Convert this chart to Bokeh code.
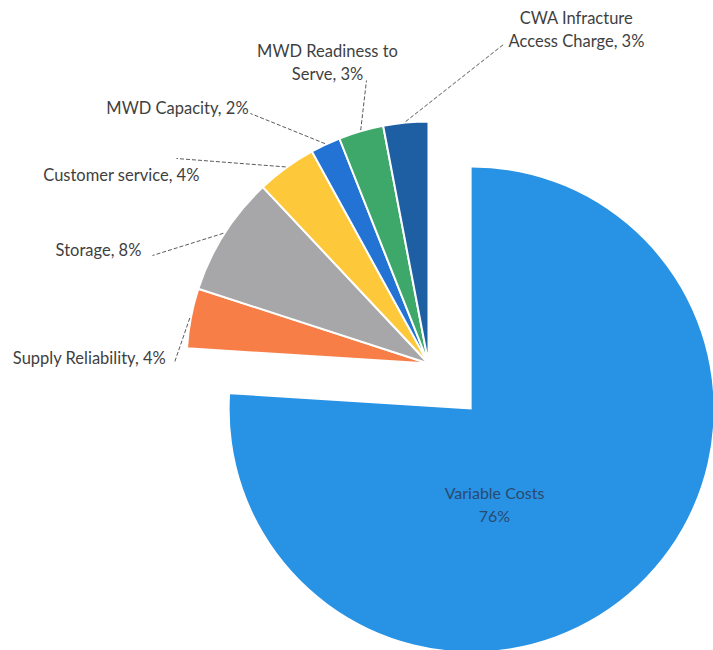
import numpy as np
from bokeh.plotting import figure
from bokeh.models import Range1d
from bokeh.embed import file_html
from bokeh.resources import INLINE
from bokeh.core.properties import value

# ---- data ----
categories = ["Variable Costs", "Supply Reliability", "Storage", "Customer service",
              "MWD Capacity", "MWD Readiness to Serve", "CWA Infracture Access Charge"]
shares = [76, 4, 8, 4, 2, 3, 3]
label_lines = [["Variable Costs", "76%"],
               ["Supply Reliability, 4%"],
               ["Storage, 8%"],
               ["Customer service, 4%"],
               ["MWD Capacity, 2%"],
               ["MWD Readiness to", "Serve, 3%"],
               ["CWA Infracture", "Access Charge, 3%"]]

# ---- styles / layout ----
colors = ["#2892E4", "#F87E48", "#A7A7A9", "#FDC93A", "#2373D4", "#3DA86A", "#1E5EA3"]
W, H = 713, 650
CX, CY = 428, 363          # pie centre (screen px)
R = 242
explode = [63, 0, 0, 0, 0, 0, 0]
# label centres (screen px) of first line, line spacing
label_pos = [(494, 492), (89, 357), (98, 249), (121, 174), (177, 107), (327, 50), (576, 17)]
leader_end = [None, (174, 362), (152, 255), (176, 158), (250, 113), (366, 80), (503, 44)]
LINE_H = 23

def sy(y):
    return H - y

p = figure(width=W, height=H, x_range=Range1d(0, W), y_range=Range1d(0, H),
           output_backend="svg", toolbar_location=None,
           x_axis_location=None, y_axis_location=None, min_border=0)
p.grid.visible = False
p.outline_line_color = None
p.background_fill_color = "white"
p.border_fill_color = "white"

total = float(sum(shares))
start = 0.0
for i, s in enumerate(shares):
    theta0 = start
    theta1 = start + 360.0 * s / total
    start = theta1
    mid = np.radians((theta0 + theta1) / 2)
    dx, dy = np.sin(mid), np.cos(mid)
    cx = CX + explode[i] * dx
    cy = sy(CY) + explode[i] * dy
    p.wedge(x=[cx], y=[cy], radius=R,
            start_angle=np.radians(90 - theta1), end_angle=np.radians(90 - theta0),
            direction="anticlock", fill_color=colors[i],
            line_color="white", line_width=2 if i else 0)
    if leader_end[i] is not None:
        x0 = cx + (R + 1) * dx
        y0 = cy + (R + 1) * dy
        ex, ey = leader_end[i]
        p.line([x0, ex], [y0, sy(ey)], line_color="#5a5a5a", line_width=1,
               line_dash="4 2")
    lx, ly = label_pos[i]
    for k, t in enumerate(label_lines[i]):
        p.text(x=[lx], y=[sy(ly + k * LINE_H)], text=[t],
               text_font=value("Lato"),
               text_font_size="16px" if i == 0 else "16.5px",
               text_color="#2B4A6F" if i == 0 else "#3F3F3F",
               text_align="center", text_baseline="middle")

open("out.html", "w").write(file_html(p, INLINE))
